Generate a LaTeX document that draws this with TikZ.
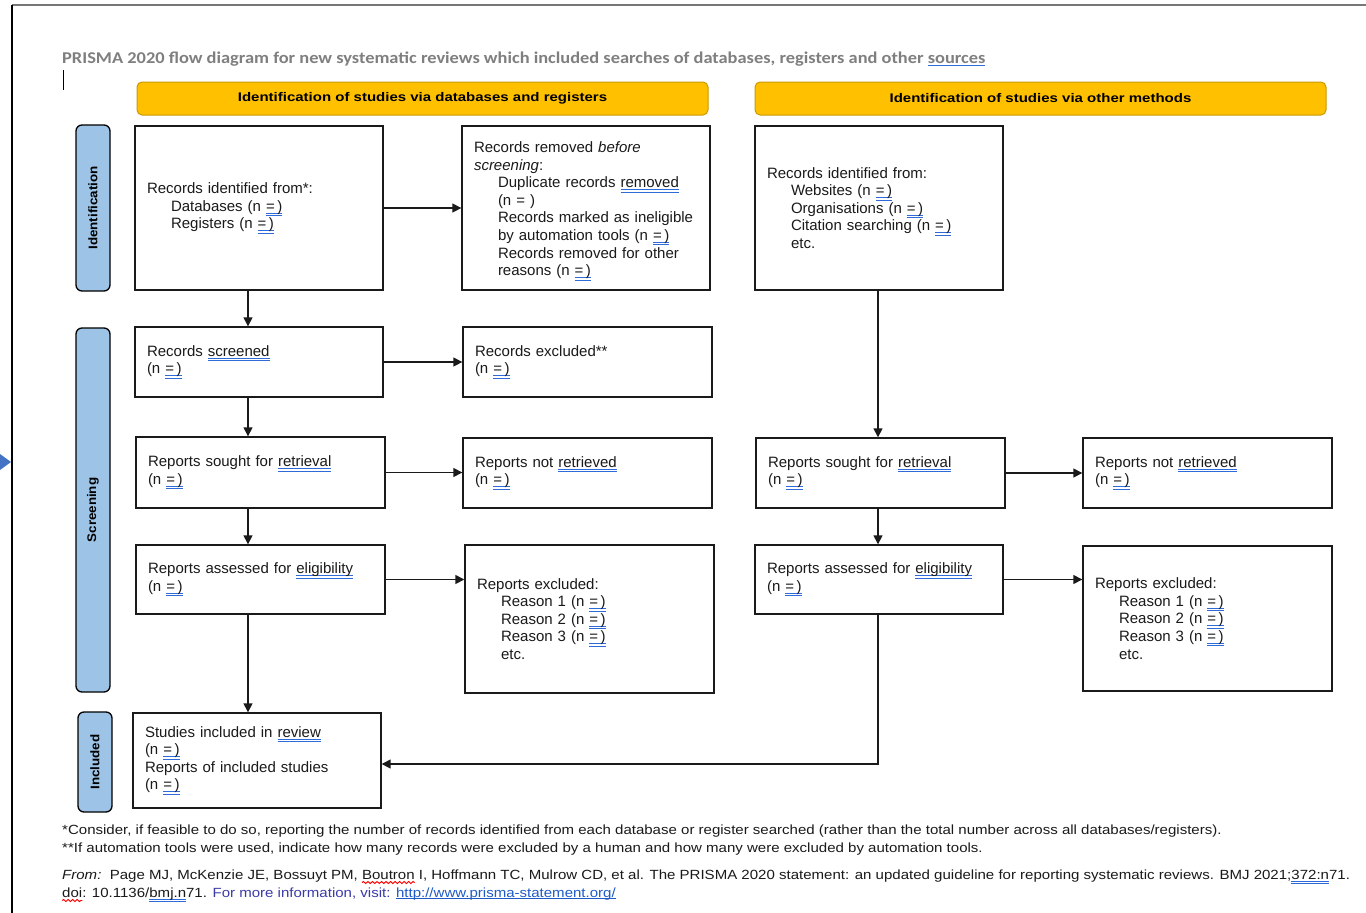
\documentclass[tikz,border=0pt]{standalone}
\usepackage{fontspec}
\setmainfont{Liberation Sans}
\newfontfamily\titlefont{Carlito}
\usetikzlibrary{arrows.meta,decorations.pathmorphing}
\definecolor{hdr}{HTML}{FFC000}
\definecolor{hdrb}{HTML}{C99A06}
\definecolor{side}{HTML}{9DC3E6}
\definecolor{ulblue}{HTML}{2F6BD8}
\definecolor{ttl}{HTML}{7F7F7F}
\definecolor{txt}{HTML}{1A1A1A}
\definecolor{info}{HTML}{3B3BA8}
\definecolor{linkc}{HTML}{1F5BC6}
\definecolor{tri}{HTML}{4472C4}
\definecolor{frame}{HTML}{777777}
\newsavebox\ulbox
\newlength\ulw
\newcommand\dbl[1]{\sbox\ulbox{#1}\setlength\ulw{\wd\ulbox}%
  \rlap{\textcolor{ulblue}{\rule[-2.4pt]{\ulw}{0.9pt}}}%
  \rlap{\textcolor{ulblue}{\rule[-4.8pt]{\ulw}{0.9pt}}}\usebox\ulbox}
\newcommand\sgl[1]{\sbox\ulbox{#1}\setlength\ulw{\wd\ulbox}%
  \rlap{\textcolor{ulblue}{\rule[-3pt]{\ulw}{1pt}}}\usebox\ulbox}
\newcommand\lnk[1]{\sbox\ulbox{#1}\setlength\ulw{\wd\ulbox}%
  \rlap{\textcolor{linkc}{\rule[-2pt]{\ulw}{0.9pt}}}\usebox\ulbox}
\newcommand\rwv[1]{\sbox\ulbox{#1}\setlength\ulw{\wd\ulbox}%
  \rlap{\tikz[baseline=0pt]{\useasboundingbox (0pt,0pt) rectangle (1pt,1pt);
    \draw[red,line width=0.9pt,decorate,decoration={snake,amplitude=1pt,segment length=4pt}] (0pt,-3.5pt) -- (\ulw,-3.5pt);}}%
  \usebox\ulbox}
\newcommand\ind{\hspace*{24pt}}
\newcommand\nn{(n \dbl{=\,)}}
\newcommand\fs[1]{\scalebox{1.13}[1]{#1}}
\begin{document}
\begin{tikzpicture}[x=1pt,y=-1pt,
  box/.style={draw=txt, line width=1.4pt, align=left, inner xsep=12pt, inner ysep=0pt,
    font=\fontsize{15}{17.6}\selectfont, text=txt},
  hdrbox/.style={draw=hdrb, fill=hdr, rounded corners=5pt, line width=1pt,
    minimum width=571pt, minimum height=33pt, inner sep=0pt,
    font=\fontsize{12.5}{14}\selectfont\bfseries},
  sidebox/.style={draw=black, fill=side, rounded corners=6pt, line width=1.3pt,
    minimum height=34pt, rotate=90, inner sep=0pt,
    font=\fontsize{12.5}{14}\selectfont\bfseries},
  arr/.style={line width=1.5pt, draw=txt, -{Triangle[length=9pt,width=9pt]}},
  foot/.style={anchor=base west, inner sep=0pt, font=\fontsize{13.3}{15}\selectfont, text=txt},
]
\useasboundingbox (0,0) rectangle (1366,913);
\fill[white] (0,0) rectangle (1366,913);
% page frame
\draw[frame, line width=2pt] (12,5) -- (1366,5);
\draw[black, line width=1.5pt] (12,5) -- (12,913);
\fill[tri] (0,454) -- (11,462) -- (0,470) -- cycle;
\draw[black, line width=1pt] (63,70) -- (63,90);

% title
\node[anchor=base west, inner sep=0pt, text=ttl, font=\titlefont\fontsize{16.5}{18}\selectfont\bfseries] (title) at (62,63)
  {\scalebox{1.115}[1]{PRISMA 2020 flow diagram for new systematic reviews which included searches of databases, registers and other \sgl{sources}}};

% headers
\node[hdrbox] (h1) at (422.5,98.5) {\scalebox{1.2}[1]{Identification of studies via databases and registers}};
\node[hdrbox] (h2) at (1040.5,98.5) {\scalebox{1.2}[1]{Identification of studies via other methods}};

% side bars
\node[sidebox, minimum width=166pt] (s1) at (93,208) {\scalebox{1.07}[1]{Identification}};
\node[sidebox, minimum width=364pt] (s2) at (93,510) {\scalebox{1.07}[1]{Screening}};
\node[sidebox, minimum width=100pt] (s3) at (95,762) {\scalebox{1.07}[1]{Included}};

% left column
\node[box, minimum width=248pt, text width=224pt, minimum height=164pt] (A) at (259,208)
  {Records identified from*:\\ \ind Databases \nn\\ \ind Registers \nn};
\node[box, minimum width=248pt, text width=224pt, minimum height=164pt] (B) at (586,208)
  {\rule{0pt}{17pt}Records removed \textit{before}\\ \textit{screening}:\\
   \ind Duplicate records \dbl{removed}\\
   \ind (n = )\\
   \ind Records marked as ineligible\\
   \ind by automation tools \nn\\
   \ind Records removed for other\\
   \ind reasons \nn};
\node[box, minimum width=248pt, text width=224pt, minimum height=70pt] (C) at (259,362)
  {Records \dbl{screened}\\ \nn};
\node[box, minimum width=249pt, text width=225pt, minimum height=70pt] (D) at (587.5,362)
  {Records excluded**\\ \nn};
\node[box, minimum width=249pt, text width=225pt, minimum height=71pt] (E) at (260.5,472.5)
  {Reports sought for \dbl{retrieval}\\ \nn};
\node[box, minimum width=249pt, text width=225pt, minimum height=70pt] (F) at (587.5,473)
  {Reports not \dbl{retrieved}\\ \nn};
\node[box, minimum width=249pt, text width=225pt, minimum height=69pt] (G) at (260.5,579.5)
  {Reports assessed for \dbl{eligibility}\\ \nn};
\node[box, minimum width=249pt, text width=225pt, minimum height=148pt] (H) at (589.5,619)
  {Reports excluded:\\ \ind Reason 1 \nn\\ \ind Reason 2 \nn\\ \ind Reason 3 \nn\\ \ind etc.};
\node[box, minimum width=248pt, text width=224pt, minimum height=95pt] (I) at (257,760.5)
  {Studies included in \dbl{review}\\ \nn\\ Reports of included studies\\ \nn};

% right column
\node[box, minimum width=248pt, text width=224pt, minimum height=164pt] (J) at (879,208)
  {Records identified from:\\ \ind Websites \nn\\ \ind Organisations \nn\\ \ind Citation searching \nn\\ \ind etc.};
\node[box, minimum width=249pt, text width=225pt, minimum height=70pt] (K) at (880.5,473)
  {Reports sought for \dbl{retrieval}\\ \nn};
\node[box, minimum width=249pt, text width=225pt, minimum height=70pt] (L) at (1207.5,473)
  {Reports not \dbl{retrieved}\\ \nn};
\node[box, minimum width=248pt, text width=224pt, minimum height=69pt] (M) at (879,579.5)
  {Reports assessed for \dbl{eligibility}\\ \nn};
\node[box, minimum width=249pt, text width=225pt, minimum height=145pt] (N) at (1207.5,618.5)
  {Reports excluded:\\ \ind Reason 1 \nn\\ \ind Reason 2 \nn\\ \ind Reason 3 \nn\\ \ind etc.};

% connectors
\coordinate (xl) at (248,0);
\coordinate (xr) at (878,0);
\draw[arr] (A.east) -- (A.east -| B.west);
\draw[arr] (A.south -| xl) -- (C.north -| xl);
\draw[arr] (C.east) -- (C.east -| D.west);
\draw[arr] (C.south -| xl) -- (E.north -| xl);
\draw[arr] (E.east) -- (E.east -| F.west);
\draw[arr] (E.south -| xl) -- (G.north -| xl);
\draw[arr] (G.east) -- (G.east -| H.west);
\draw[arr] (G.south -| xl) -- (I.north -| xl);
\draw[arr] (J.south -| xr) -- (K.north -| xr);
\draw[arr] (K.east) -- (K.east -| L.west);
\draw[arr] (K.south -| xr) -- (M.north -| xr);
\draw[arr] (M.east) -- (M.east -| N.west);
\draw[arr] (M.south -| xr) |- ([yshift=-3.5pt]I.east);

% footer
\node[foot] (f1) at (62,834) {\fs{*Consider, if feasible to do so, reporting the number of records identified from each database or register searched (rather than the total number across all databases/registers).}};
\node[foot] (f2) at (62,852) {\fs{**If automation tools were used, indicate how many records were excluded by a human and how many were excluded by automation tools.}};
\node[foot] (f3) at (62,879) {\fs{\textit{From:}\ \ Page MJ, McKenzie JE, Bossuyt PM, \rwv{Boutron} I, Hoffmann TC, Mulrow CD, et al. The PRISMA 2020 statement: an updated guideline for reporting systematic reviews. BMJ 2021;\dbl{372:n}71.}};
\node[foot] (f4) at (62,897) {\fs{\rwv{doi}: 10.1136/\dbl{bmj.n}71. \textcolor{info}{For more information, visit:} \textcolor{linkc}{\lnk{http://www.prisma-statement.org/}}}};
\end{tikzpicture}
\end{document}
